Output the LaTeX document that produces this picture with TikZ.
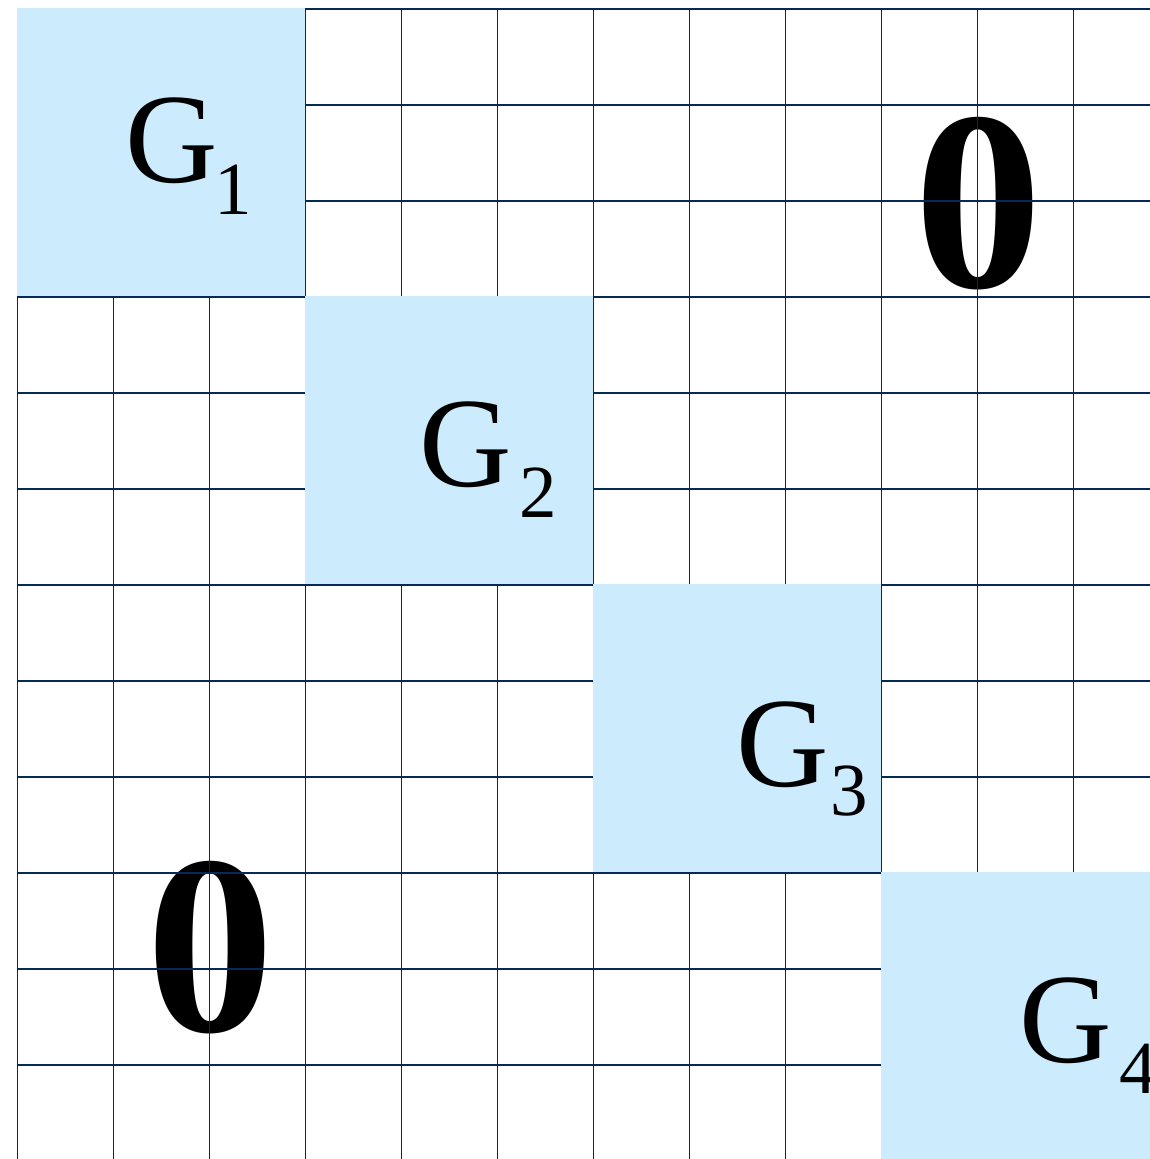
\documentclass[tikz,border=0pt]{standalone}
\usepackage{fontspec}
\setmainfont{Liberation Serif}
\definecolor{gridline}{RGB}{8,40,88}
\definecolor{blockfill}{RGB}{204,235,253}
\tikzset{
  gridpen/.style={draw=gridline, line width=1.9pt},
  blockbox/.style={fill=blockfill},
  glabel/.style={inner sep=0pt, anchor=base, font=\fontsize{128}{128}\selectfont},
  gsub/.style={inner sep=0pt, anchor=base, font=\fontsize{75}{75}\selectfont},
  zerolabel/.style={inner sep=0pt, anchor=base, font=\fontsize{256}{256}\selectfont\bfseries},
}
\begin{document}
\begin{tikzpicture}[x=1pt,y=-1pt]
\clip (0,0) rectangle (1150,1159);
\fill[white] (0,0) rectangle (1150,1159);
% zeros (under the grid)
\node[zerolabel] (zeroTR) at (978,287) {0};
\node[zerolabel] (zeroBL) at (210,1031) {0};
% grid
\foreach \i in {0,...,11}{
  \draw[gridpen] ({17.5+96*\i},9) -- ({17.5+96*\i},1170);
  \draw[gridpen] (17.5,{9+96*\i}) -- (1170,{9+96*\i});
}
% diagonal blocks
\foreach \k in {0,...,3}{
  \fill[blockbox] ({16.5+288*\k},{8+288*\k}) rectangle ({304.55+288*\k},{296.05+288*\k});
}
% labels
\node[glabel] (g1) at (171.3,182) {G};
\node[gsub] (s1) at (233.3,214) {1};
\node[glabel] (g2) at (465.5,486.5) {G};
\node[gsub] (s2) at (538,517.7) {2};
\node[glabel] (g3) at (782.5,786) {G};
\node[gsub] (s3) at (849.5,815.5) {3};
\node[glabel] (g4) at (1065.3,1062) {G};
\node[gsub] (s4) at (1138,1093) {4};
\end{tikzpicture}
\end{document}
